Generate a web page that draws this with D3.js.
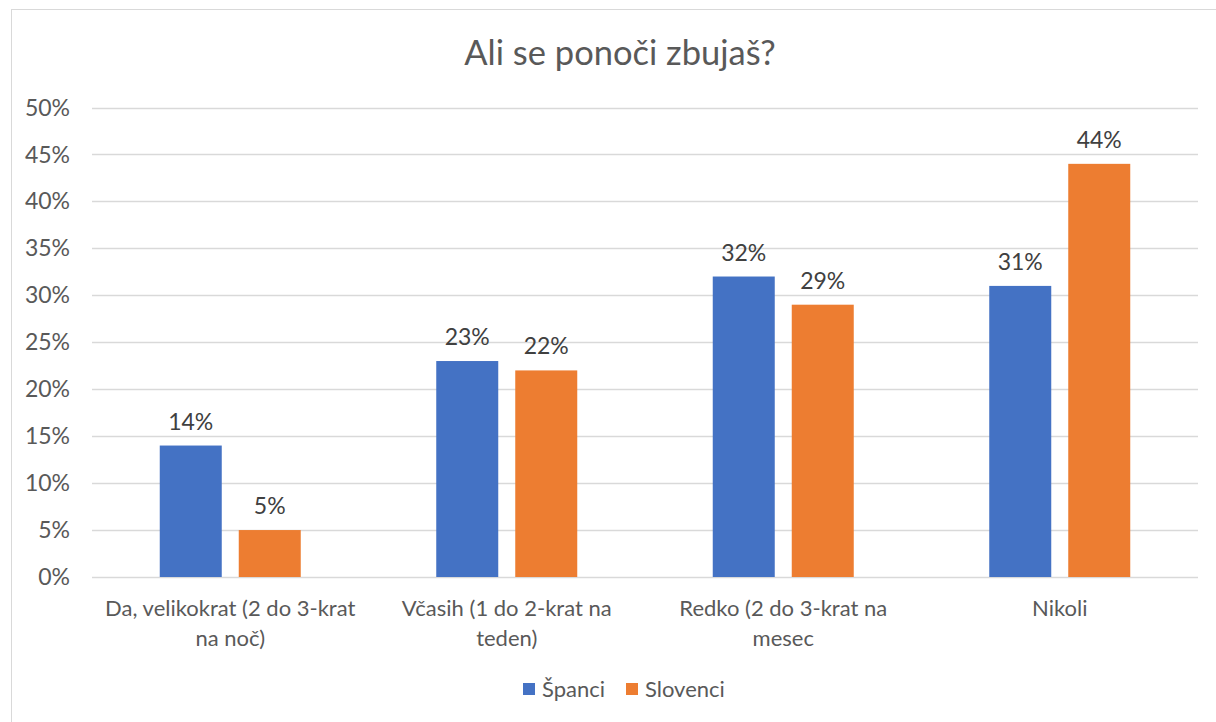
<!DOCTYPE html>
<html><head><meta charset="utf-8">
<script src="https://cdn.jsdelivr.net/npm/d3@7"></script>
<style>body{margin:0;background:#fff;} svg{display:block;}</style>
</head><body>
<svg id="c" width="1216" height="722"></svg>
<script>
const categories = [["Da, velikokrat (2 do 3-krat", "na noč)"], ["Včasih (1 do 2-krat na", "teden)"], ["Redko (2 do 3-krat na", "mesec"], ["Nikoli"]];
const seriesNames = ["Španci", "Slovenci"];
const spanci = [14, 23, 32, 31];
const slovenci = [5, 22, 29, 44];
const yTicks = [0, 5, 10, 15, 20, 25, 30, 35, 40, 45, 50];
const colors = ["#4472C4", "#ED7D31"];

const font = "Lato, 'Open Sans', sans-serif";
const svg = d3.select("#c");
svg.append("rect").attr("x", 11.5).attr("y", 9.5).attr("width", 1216).attr("height", 730)
  .attr("fill", "#fff").attr("stroke", "#d9d9d9").attr("stroke-width", 1);

const x0 = d3.scaleBand().domain(d3.range(categories.length)).range([92, 1198]).paddingInner(0).paddingOuter(0);
const y = d3.scaleLinear().domain([0, 50]).range([577, 107.5]);
const bw = 62, gap = 17;
const groupW = bw * 2 + gap;

// gridlines
svg.append("g").selectAll("line").data(yTicks).join("line")
  .attr("x1", 92).attr("x2", 1198).attr("y1", d => Math.round(y(d)) + 0.5).attr("y2", d => Math.round(y(d)) + 0.5)
  .attr("stroke", "#d9d9d9").attr("stroke-width", 1.5);

// y axis labels
svg.append("g").selectAll("text").data(yTicks).join("text")
  .attr("x", 70).attr("y", d => y(d)).attr("dy", "0.35em").attr("text-anchor", "end")
  .attr("font-family", font).attr("font-size", 23).attr("fill", "#595959")
  .text(d => d + "%");

const data = [spanci, slovenci];
data.forEach((vals, s) => {
  const g = svg.append("g");
  g.selectAll("rect").data(vals).join("rect")
    .attr("x", (d, i) => x0(i) + (x0.bandwidth() - groupW) / 2 + s * (bw + gap))
    .attr("width", bw)
    .attr("y", d => y(d)).attr("height", d => y(0) - y(d))
    .attr("fill", colors[s]);
  g.selectAll("text").data(vals).join("text")
    .attr("x", (d, i) => x0(i) + (x0.bandwidth() - groupW) / 2 + s * (bw + gap) + bw / 2)
    .attr("y", d => y(d) - 24).attr("dy", "0.35em").attr("text-anchor", "middle")
    .attr("font-family", font).attr("font-size", 23).attr("fill", "#404040")
    .text(d => d + "%");
});

// category labels
const cl = svg.append("g").selectAll("text").data(categories).join("text")
  .attr("x", (d, i) => x0(i) + x0.bandwidth() / 2).attr("y", 608)
  .attr("text-anchor", "middle").attr("font-family", font).attr("font-size", 22).attr("fill", "#595959");
cl.selectAll("tspan").data(d => d).join("tspan")
  .attr("x", function () { return d3.select(this.parentNode).attr("x"); })
  .attr("dy", (d, i) => i === 0 ? "0.35em" : 30).text(d => d);

// title
svg.append("text").attr("x", 620).attr("y", 53).attr("dy", "0.35em").attr("text-anchor", "middle")
  .attr("font-family", font).attr("font-size", 34.5).attr("fill", "#595959").text("Ali se ponoči zbujaš?");

// legend
const leg = svg.append("g");
const legX = [523, 626];
seriesNames.forEach((n, i) => {
  leg.append("rect").attr("x", legX[i]).attr("y", 683).attr("width", 12).attr("height", 12).attr("fill", colors[i]);
  leg.append("text").attr("x", legX[i] + 19).attr("y", 689).attr("dy", "0.35em")
    .attr("font-family", font).attr("font-size", 22).attr("fill", "#595959").text(n);
});
</script>
</body></html>
